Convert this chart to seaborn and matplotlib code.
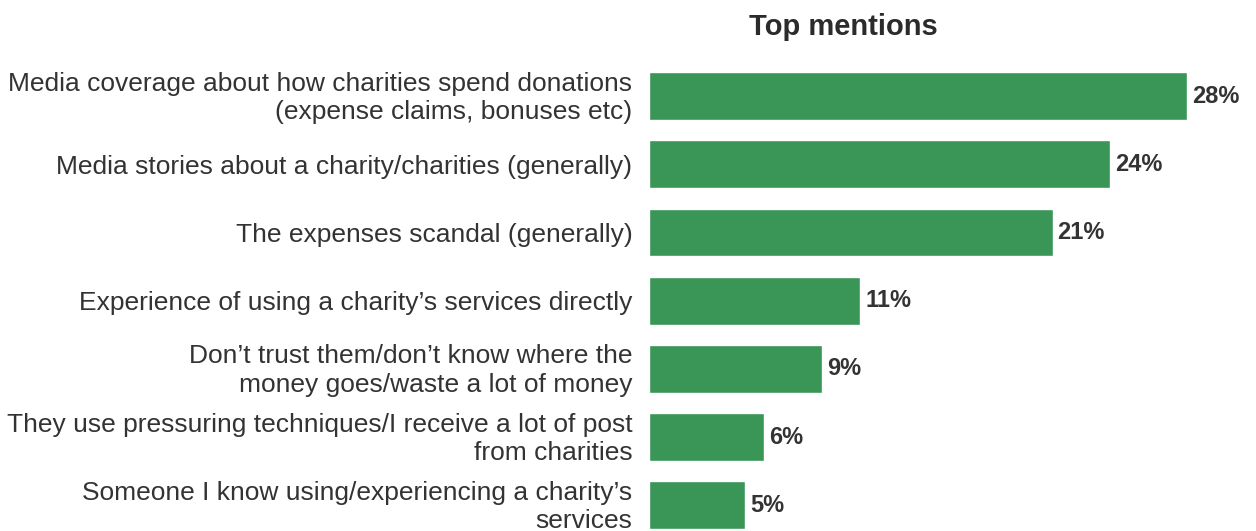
import matplotlib
matplotlib.use("Agg")
import matplotlib.pyplot as plt
import matplotlib.transforms as mtransforms
import seaborn as sns
import pandas as pd

categories = [
    "Media coverage about how charities spend donations\n(expense claims, bonuses etc)",
    "Media stories about a charity/charities (generally)",
    "The expenses scandal (generally)",
    "Experience of using a charity\u2019s services directly",
    "Don\u2019t trust them/don\u2019t know where the\nmoney goes/waste a lot of money",
    "They use pressuring techniques/I receive a lot of post\nfrom charities",
    "Someone I know using/experiencing a charity\u2019s\nservices",
]
values = [28, 24, 21, 11, 9, 6, 5]
title = "Top mentions"

df = pd.DataFrame({"category": categories, "value": values})

sns.set_theme(style="white")
plt.rcParams["font.family"] = ["Liberation Sans", "DejaVu Sans"]

W, H = 1256, 531
fig = plt.figure(figsize=(W / 100, H / 100), dpi=100)
ax = fig.add_axes([649 / W, 0, (1187 - 649) / W, (531 - 62) / H])

sns.barplot(data=df, x="value", y="category", orient="h", color="#3a9656",
            saturation=1, width=0.7, ax=ax)

ax.set_xlim(0, 28)
ax.set_ylim(6.377, -0.5)
ax.set_xlabel("")
ax.set_ylabel("")
ax.set_xticks([])
for s in ax.spines.values():
    s.set_visible(False)
ax.tick_params(axis="y", length=0, pad=12, labelsize=19, labelcolor="#333333")

# nudge two-line labels up a little so the last one stays inside the canvas
lift = mtransforms.ScaledTranslation(0, 3 / 100, fig.dpi_scale_trans)
for lbl in ax.get_yticklabels():
    lbl.set_linespacing(1.22)
    lbl.set_horizontalalignment("right")
    lbl.set_multialignment("right")
    if "\n" in lbl.get_text():
        lbl.set_transform(lbl.get_transform() + lift)

for i, v in enumerate(values):
    ax.text(v + 0.25, i, f"{v}%", va="center", ha="left", fontsize=17,
            fontweight="bold", color="#333333", clip_on=False)

fig.text(843 / W, 1 - 27 / H, title, ha="center", va="center", fontsize=21,
         fontweight="bold", color="#2b2b2b")

fig.savefig("out.png", dpi=100)
